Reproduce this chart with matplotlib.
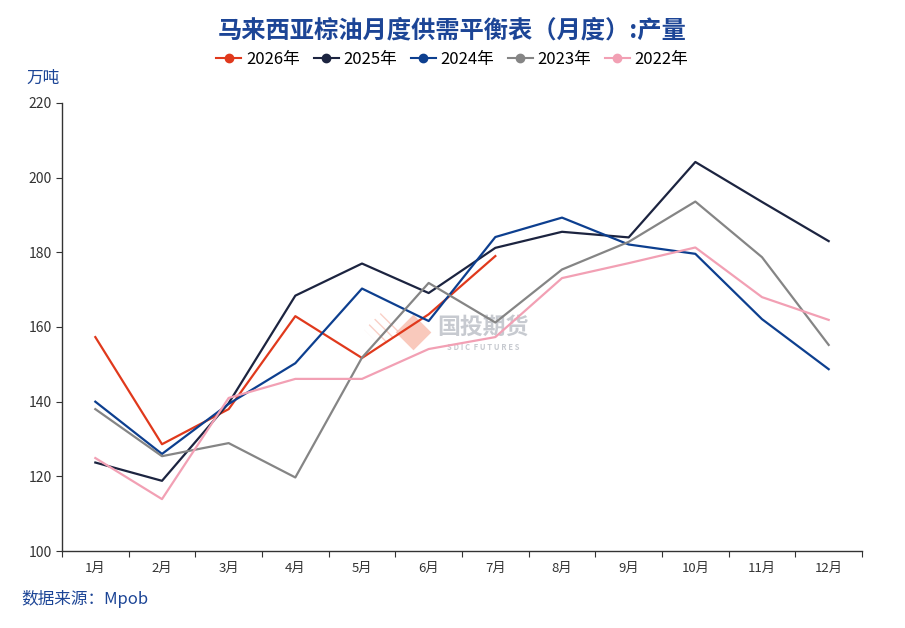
import matplotlib
matplotlib.use("Agg")
import matplotlib.pyplot as plt
from matplotlib.ticker import FixedLocator, NullFormatter

plt.rcParams['font.family'] = ['Noto Sans CJK SC', 'DejaVu Sans']

months = ['1月', '2月', '3月', '4月', '5月', '6月', '7月', '8月', '9月', '10月', '11月', '12月']
years = ['2026年', '2025年', '2024年', '2023年', '2022年']
y2026 = [157.3, 128.6, 138.0, 162.9, 151.7, 163.4, 179.0]
y2025 = [123.7, 118.8, 139.6, 168.4, 177.0, 169.1, 181.2, 185.5, 184.0, 204.2, 193.5, 183.0]
y2024 = [140.0, 126.0, 139.4, 150.3, 170.3, 161.6, 184.1, 189.3, 182.1, 179.6, 162.1, 148.7]
y2023 = [138.0, 125.4, 128.9, 119.7, 151.8, 171.8, 161.2, 175.4, 182.8, 193.6, 178.7, 155.2]
y2022 = [124.9, 113.9, 141.0, 146.1, 146.1, 154.1, 157.3, 173.1, 177.1, 181.3, 168.0, 161.9]
series = [y2026, y2025, y2024, y2023, y2022]
colors = ['#e0391c', '#1c2440', '#0d3f8f', '#858585', '#f2a0b4']

fig = plt.figure(figsize=(9.05, 6.28), dpi=100)
ax = fig.add_axes([0.0685, 0.1226, 0.884, 0.7134])

x = list(range(1, 13))
for name, vals, c in zip(years, series, colors):
    ax.plot(x[:len(vals)], vals, color=c, lw=1.6, label=name, zorder=3)

ax.set_xlim(0.5, 12.5)
ax.set_ylim(100, 220)
ax.set_yticks(range(100, 221, 20))
ax.xaxis.set_major_locator(FixedLocator([i + 0.5 for i in range(0, 13)]))
ax.xaxis.set_major_formatter(NullFormatter())
ax.xaxis.set_minor_locator(FixedLocator(x))
ax.set_xticklabels(months, minor=True)
ax.tick_params(axis='x', which='major', length=4, color='#333333')
ax.tick_params(axis='x', which='minor', length=0, pad=8, labelsize=9.5, labelcolor='#333333')
ax.tick_params(axis='y', length=4, labelsize=10, labelcolor='#333333', color='#333333')
for s in ['top', 'right']:
    ax.spines[s].set_visible(False)
for s in ['left', 'bottom']:
    ax.spines[s].set_color('#333333')
    ax.spines[s].set_linewidth(1.0)

fig.text(0.5, 0.951, '马来西亚棕油月度供需平衡表（月度）:产量', ha='center', va='center',
         fontsize=17.5, fontweight='bold', color='#1c4596')
handles = [plt.Line2D([0], [0], color=c, lw=1.5, marker='o', markersize=6) for c in colors]
fig.legend(handles, years, loc='center', bbox_to_anchor=(0.5, 0.906), ncol=5, frameon=False,
           fontsize=12, handlelength=1.5, handletextpad=0.3, columnspacing=0.8)
fig.text(0.029, 0.875, '万吨', ha='left', va='center', fontsize=12, color='#1c4596')
fig.text(0.024, 0.046, '数据来源：Mpob', ha='left', va='center', fontsize=12, color='#1c4596')

# watermark
ax.text(6.815, 159.8, '国投期货', ha='center', va='center', fontsize=16.5, fontweight='bold',
        color='#9aa0aa', alpha=0.55, zorder=1)
ax.text(6.815, 154.6, 'S D I C  F U T U R E S', ha='center', va='center', fontsize=5.5,
        fontweight='bold', color='#9aa0aa', alpha=0.55, zorder=1)
ax.scatter([5.77], [158.7], marker='D', s=330, color='#f5a590', alpha=0.6, zorder=1, lw=0)
ax.scatter([5.3], [159.3], marker='D', s=330, facecolor='none', edgecolor='#f5b0a0',
           hatch='\\\\\\', alpha=0.6, zorder=1, lw=0)

fig.savefig('out.png', dpi=100)
